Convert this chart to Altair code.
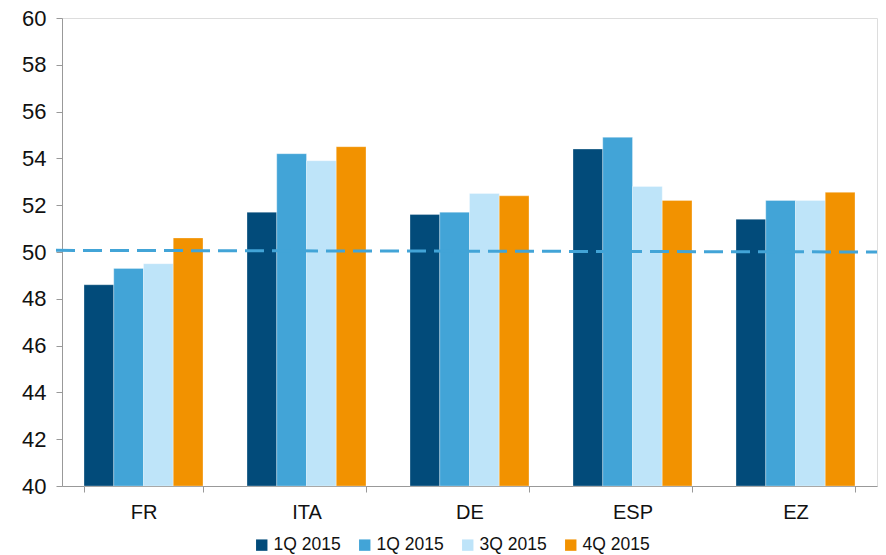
import altair as alt
import pandas as pd

# PMI readings by country and quarter
countries = ["FR", "ITA", "DE", "ESP", "EZ"]
series_keys = ["q1a", "q1b", "q3", "q4"]
series_labels = ["1Q 2015", "1Q 2015", "3Q 2015", "4Q 2015"]
series_colors = ["#024B7A", "#42A4D7", "#BEE4F9", "#F29200"]

q1a = [48.6, 51.7, 51.6, 54.4, 51.4]
q1b = [49.3, 54.2, 51.7, 54.9, 52.2]
q3 = [49.5, 53.9, 52.5, 52.8, 52.2]
q4 = [50.6, 54.5, 52.4, 52.2, 52.55]

# threshold line (slight drift from left edge to right edge)
threshold_start = 50.07
threshold_end = 50.0

rows = []
for key, vals in zip(series_keys, [q1a, q1b, q3, q4]):
    for c, v in zip(countries, vals):
        rows.append({"country": c, "series": key, "value": v})
df = pd.DataFrame(rows)

W, H = 815, 468
y_scale = alt.Scale(domain=[40, 60], nice=False, zero=False)

label_map = "{" + ",".join(f"'{k}':'{l}'" for k, l in zip(series_keys, series_labels)) + "}"

bars = alt.Chart(df).mark_bar(stroke="white", strokeWidth=0.6, strokeOpacity=0.5).encode(
    x=alt.X(
        "country:N",
        sort=countries,
        title=None,
        scale=alt.Scale(paddingInner=0.27, paddingOuter=0.135),
        axis=alt.Axis(
            labelAngle=0,
            labelFont="Liberation Sans",
            labelFontSize=20,
            labelColor="#111111",
            labelPadding=10,
            domainColor="#999999",
            tickColor="#999999",
            tickBand="extent",
            tickSize=6,
            ticks=True,
        ),
    ),
    xOffset=alt.XOffset("series:N", sort=series_keys),
    y=alt.Y(
        "value:Q",
        title=None,
        scale=y_scale,
        axis=alt.Axis(
            values=list(range(40, 61, 2)),
            grid=False,
            labelFont="Liberation Sans",
            labelFontSize=22,
            labelColor="#111111",
            labelPadding=10,
            domainColor="#999999",
            tickColor="#999999",
            tickSize=6,
        ),
    ),
    y2=alt.datum(40),
    color=alt.Color(
        "series:N",
        sort=series_keys,
        scale=alt.Scale(domain=series_keys, range=series_colors),
        legend=alt.Legend(
            title=None,
            orient="none",
            direction="horizontal",
            legendX=191,
            legendY=H + 50,
            symbolType="square",
            symbolSize=130,
            symbolStrokeWidth=0,
            labelFont="Liberation Sans",
            labelFontSize=17.5,
            labelColor="#111111",
            labelExpr=f"{label_map}[datum.value]",
            columnPadding=15,
            labelOffset=3,
        ),
    ),
)

thr = pd.DataFrame({"y": [threshold_start], "y2": [threshold_end]})
rule = alt.Chart(thr).mark_rule(
    color="#42A4D7", strokeWidth=3, strokeDash=[19, 8], clip=False
).encode(
    x=alt.value(-6),
    x2=alt.value(W),
    y=alt.Y("y:Q", scale=y_scale),
    y2="y2:Q",
)

chart = (
    alt.layer(bars, rule)
    .properties(
        width=W,
        height=H,
        autosize=alt.AutoSizeParams(type="none"),
        padding={"left": 62, "top": 18, "right": 9, "bottom": 69},
    )
    .configure_view(stroke=None)
    .configure(background="white")
)

chart.save("out.html", embed_options={"renderer": "svg", "actions": False})
